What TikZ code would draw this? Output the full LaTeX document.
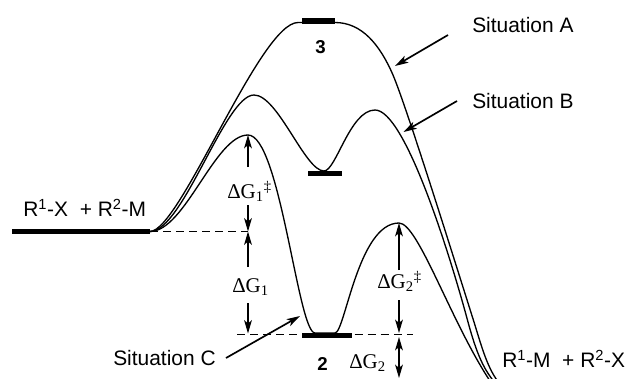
\documentclass[tikz,border=0pt]{standalone}
\usepackage{fontspec}
\setmainfont{Liberation Sans}
\newfontfamily\serifg{Liberation Serif}
\usetikzlibrary{arrows.meta}
\begin{document}
\begin{tikzpicture}[x=0.75pt,y=-0.75pt,
  curve/.style={line width=1pt},
  level/.style={line width=3.8pt},
  dashline/.style={line width=0.85pt, dash pattern=on 6pt off 3.8pt},
  tip/.tip={Stealth[length=10pt,width=5.8pt,inset=2.5pt]},
  dim/.style={line width=1.25pt, -tip},
  dimboth/.style={line width=1.25pt, tip-tip},
  lbl/.style={font=\fontsize{15.7}{18}\selectfont, inner sep=0pt, anchor=base west},
  glbl/.style={font=\serifg\fontsize{15.7}{18}\selectfont, inner sep=0pt, anchor=base west},
  num/.style={font=\bfseries\fontsize{14}{16}\selectfont, inner sep=0pt, anchor=base west}]
\useasboundingbox (0,0) rectangle (626,379);
% key points
\coordinate (R0) at (150,231.5);
\coordinate (L0) at (248,231.5);
\coordinate (TSC1) at (248,135);
\coordinate (TSC2) at (399,223);
% energy curves
\begin{scope}
\clip (0,0) rectangle (626,379);
% Situation A
\draw[curve] (R0) .. controls (180,231.5) and (260,22.5) .. (298,22.5) -- (335,22.5)
  .. controls (362,22.5) and (380,45) .. (393,75)
  .. controls (407,108) and (455,262) .. (474,322)
  .. controls (482,348) and (488,370) .. (500,384);
% Situation B
\draw[curve] (R0) .. controls (183,231.5) and (225,95) .. (254,95)
  .. controls (278,95) and (305,171) .. (324,171)
  .. controls (336,171) and (350,110) .. (375,110)
  .. controls (405,110) and (450,255) .. (468,322)
  .. controls (477,355) and (484,370) .. (496,384);
% Situation C
\draw[curve] (R0) .. controls (185,231.5) and (215,135) .. (TSC1)
  .. controls (280,135) and (298,333) .. (315,333) -- (335,333)
  .. controls (345,333) and (358,223) .. (TSC2)
  .. controls (418,223) and (450,320) .. (490,381);
\end{scope}
% dashed reference levels
\draw[dashline] (R0) -- (L0);
\draw[dashline] (237,334.5) -- (413,334.5);
% levels
\draw[level] (12,231.5) -- (R0);
\draw[level] (302,21) -- (335,21);
\draw[level] (308,173.5) -- (342,173.5);
\draw[level] (302,335.5) -- (352,335.5);
% energy arrows
\coordinate (a1) at (248,167);
\coordinate (a2) at (248,205);
\coordinate (a3) at (248,267);
\coordinate (a4) at (248,303);
\coordinate (L1b) at (248,333.5);
\coordinate (a5) at (399,270);
\coordinate (a6) at (399,300);
\coordinate (L2a) at (399,333);
\coordinate (L2b) at (399,337);
\coordinate (a7) at (399,378);
\draw[dim] (a1) -- (TSC1);
\draw[dim] (a2) -- (L0);
\draw[dim] (a3) -- (L0);
\draw[dim] (a4) -- (L1b);
\draw[dim] (a5) -- (TSC2);
\draw[dim] (a6) -- (L2a);
\draw[dimboth] (L2b) -- (a7);
% labels
\node[lbl] (sitA) at (472,32) {Situation A};
\node[lbl] (sitB) at (472,108) {Situation B};
\node[lbl] (sitC) at (113,365) {Situation C};
\node[lbl] (react) at (23,216) {R\textsuperscript{1}-X\ \ + R\textsuperscript{2}-M};
\node[lbl] (prod) at (502,367) {R\textsuperscript{1}-M\ \ + R\textsuperscript{2}-X};
\node[num] (n3) at (315,53) {3};
\node[num] (n2) at (317,370) {2};
\node[glbl] (dG1ts) at (227,198) {ΔG\textsubscript{1}\textsuperscript{‡}};
\node[glbl] (dG1) at (232,292) {ΔG\textsubscript{1}};
\node[glbl] (dG2ts) at (377,288) {ΔG\textsubscript{2}\textsuperscript{‡}};
\node[glbl] (dG2) at (349,368) {ΔG\textsubscript{2}};
% situation pointers
\coordinate (tA) at (448,35);
\coordinate (hA) at (395,66);
\coordinate (tB) at (457,101);
\coordinate (hB) at (403.5,132);
\coordinate (tC) at (226,358);
\coordinate (hC) at (300,316);
\draw[dim] (tA) -- (hA);
\draw[dim] (tB) -- (hB);
\draw[dim] (tC) -- (hC);
\end{tikzpicture}
\end{document}
